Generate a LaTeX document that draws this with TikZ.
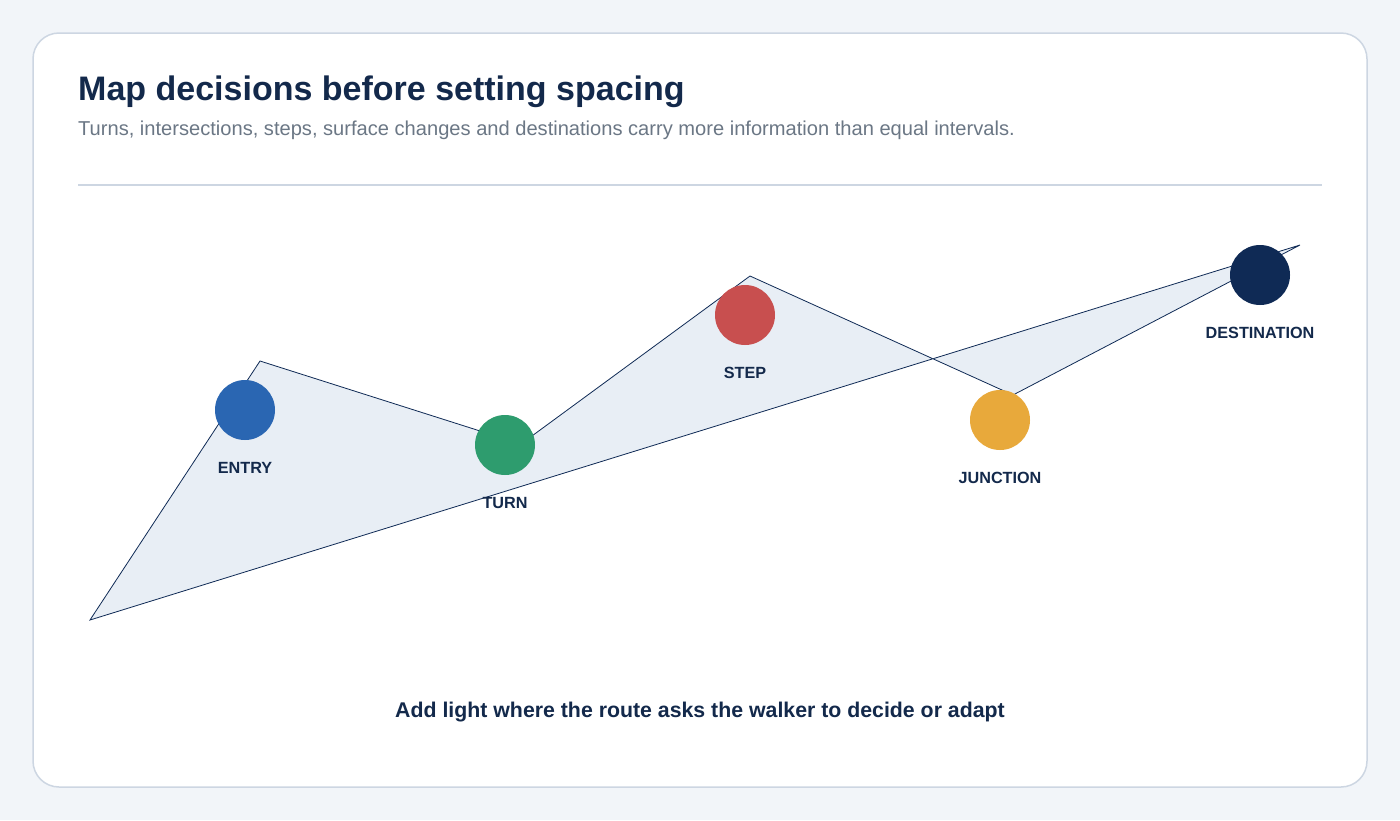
\documentclass[tikz,border=0pt]{standalone}
\usepackage{fontspec}
\setmainfont{Liberation Sans}
\usetikzlibrary{positioning}
\definecolor{pagebg}{HTML}{F2F5F9}
\definecolor{cardline}{HTML}{CDD6E2}
\definecolor{ink}{HTML}{13294B}
\definecolor{muted}{HTML}{6B7785}
\definecolor{routefill}{HTML}{E8EEF5}
\definecolor{cblue}{HTML}{2A66B2}
\definecolor{cgreen}{HTML}{2E9C6E}
\definecolor{cred}{HTML}{C84F4F}
\definecolor{corange}{HTML}{E8A93B}
\definecolor{cnavy}{HTML}{0F2A55}
\tikzset{
  stop/.style={circle, minimum size=60pt, inner sep=0pt},
  stoplabel/.style={inner sep=0pt, text=ink, font=\bfseries\fontsize{16.2}{19}\selectfont},
}
\begin{document}
\begin{tikzpicture}[x=1pt,y=-1pt,node distance=22pt]
    \useasboundingbox (0,0) rectangle (1400,820);
    \fill[pagebg] (0,0) rectangle (1400,820);
    \draw[cardline, line width=1.5pt, fill=white, rounded corners=26pt] (33,33) rectangle (1367,787);
    % heading
    \node[anchor=base west, inner sep=0pt, text=ink, font=\bfseries\fontsize{34}{40}\selectfont](title) at (78,100) {Map decisions before setting spacing};
    \node[anchor=base west, inner sep=0pt, text=muted, font=\fontsize{20.1}{24}\selectfont](subtitle) at (78,135) {Turns, intersections, steps, surface changes and destinations carry more information than equal intervals.};
    \coordinate (ruleA) at (78,185);
    \coordinate (ruleB) at (1322,185);
    \draw[cardline, line width=2pt] (ruleA) -- (ruleB);
    % route outline
    \coordinate (p0) at (90,620);
    \coordinate (p1) at (260,361);
    \coordinate (p2) at (521,444);
    \coordinate (p3) at (750,276);
    \coordinate (p4) at (1013,395);
    \coordinate (p5) at (1300,245);
    \draw[cnavy, line width=0.8pt, fill=routefill, line join=miter] (p0) -- (p1) -- (p2) -- (p3) -- (p4) -- (p5) -- cycle;
    % stops
    \node[stop, fill=cblue](entry) at (245,410) {};
    \node[stop, fill=cgreen](turn) at (505,445) {};
    \node[stop, fill=cred](step) at (745,315) {};
    \node[stop, fill=corange](junction) at (1000,420) {};
    \node[stop, fill=cnavy](dest) at (1260,275) {};
    \node[stoplabel](entrylbl)[below=of entry]{ENTRY};
    \node[stoplabel](turnlbl)[below=of turn]{TURN};
    \node[stoplabel](steplbl)[below=of step]{STEP};
    \node[stoplabel](junctionlbl)[below=of junction]{JUNCTION};
    \node[stoplabel](destlbl)[below=of dest]{DESTINATION};
    \node[text=ink, font=\bfseries\fontsize{21.3}{25}\selectfont](caption) at (700,712) {Add light where the route asks the walker to decide or adapt};
\end{tikzpicture}
\end{document}
